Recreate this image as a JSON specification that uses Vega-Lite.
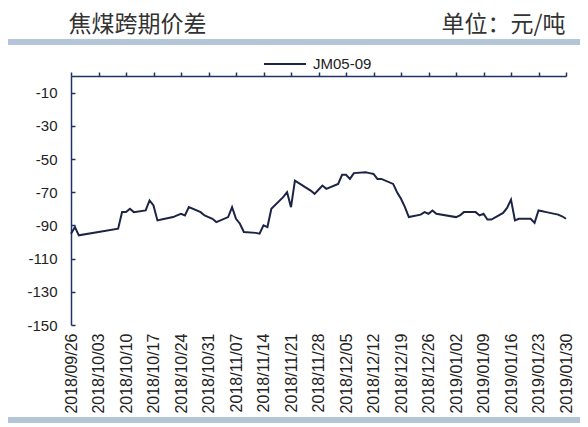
{
  "$schema": "https://vega.github.io/schema/vega-lite/v6.json",
  "width": 495,
  "height": 249,
  "autosize": "none",
  "padding": {"left": 71, "top": 76, "right": 22, "bottom": 102},
  "background": "white",
  "data": {
    "values": [
      {"date": "2018-09-26", "v": -95, "series": "JM05-09"},
      {"date": "2018-09-27", "v": -91, "series": "JM05-09"},
      {"date": "2018-09-28", "v": -96, "series": "JM05-09"},
      {"date": "2018-10-08", "v": -92, "series": "JM05-09"},
      {"date": "2018-10-09", "v": -82, "series": "JM05-09"},
      {"date": "2018-10-10", "v": -82, "series": "JM05-09"},
      {"date": "2018-10-11", "v": -80, "series": "JM05-09"},
      {"date": "2018-10-12", "v": -82, "series": "JM05-09"},
      {"date": "2018-10-15", "v": -81, "series": "JM05-09"},
      {"date": "2018-10-16", "v": -75, "series": "JM05-09"},
      {"date": "2018-10-17", "v": -78, "series": "JM05-09"},
      {"date": "2018-10-18", "v": -87, "series": "JM05-09"},
      {"date": "2018-10-19", "v": -86.5, "series": "JM05-09"},
      {"date": "2018-10-22", "v": -85, "series": "JM05-09"},
      {"date": "2018-10-23", "v": -84, "series": "JM05-09"},
      {"date": "2018-10-24", "v": -83, "series": "JM05-09"},
      {"date": "2018-10-25", "v": -84, "series": "JM05-09"},
      {"date": "2018-10-26", "v": -79, "series": "JM05-09"},
      {"date": "2018-10-29", "v": -82, "series": "JM05-09"},
      {"date": "2018-10-30", "v": -84, "series": "JM05-09"},
      {"date": "2018-10-31", "v": -85, "series": "JM05-09"},
      {"date": "2018-11-01", "v": -86, "series": "JM05-09"},
      {"date": "2018-11-02", "v": -88, "series": "JM05-09"},
      {"date": "2018-11-05", "v": -85, "series": "JM05-09"},
      {"date": "2018-11-06", "v": -79, "series": "JM05-09"},
      {"date": "2018-11-07", "v": -86, "series": "JM05-09"},
      {"date": "2018-11-08", "v": -89, "series": "JM05-09"},
      {"date": "2018-11-09", "v": -94, "series": "JM05-09"},
      {"date": "2018-11-12", "v": -94.5, "series": "JM05-09"},
      {"date": "2018-11-13", "v": -95, "series": "JM05-09"},
      {"date": "2018-11-14", "v": -90, "series": "JM05-09"},
      {"date": "2018-11-15", "v": -91, "series": "JM05-09"},
      {"date": "2018-11-16", "v": -80, "series": "JM05-09"},
      {"date": "2018-11-19", "v": -73, "series": "JM05-09"},
      {"date": "2018-11-20", "v": -70, "series": "JM05-09"},
      {"date": "2018-11-21", "v": -79, "series": "JM05-09"},
      {"date": "2018-11-22", "v": -63, "series": "JM05-09"},
      {"date": "2018-11-23", "v": -64.5, "series": "JM05-09"},
      {"date": "2018-11-26", "v": -69, "series": "JM05-09"},
      {"date": "2018-11-27", "v": -71, "series": "JM05-09"},
      {"date": "2018-11-28", "v": -68.5, "series": "JM05-09"},
      {"date": "2018-11-29", "v": -66, "series": "JM05-09"},
      {"date": "2018-11-30", "v": -68, "series": "JM05-09"},
      {"date": "2018-12-03", "v": -65, "series": "JM05-09"},
      {"date": "2018-12-04", "v": -59.5, "series": "JM05-09"},
      {"date": "2018-12-05", "v": -59.5, "series": "JM05-09"},
      {"date": "2018-12-06", "v": -62, "series": "JM05-09"},
      {"date": "2018-12-07", "v": -58.5, "series": "JM05-09"},
      {"date": "2018-12-10", "v": -58, "series": "JM05-09"},
      {"date": "2018-12-11", "v": -58.5, "series": "JM05-09"},
      {"date": "2018-12-12", "v": -59, "series": "JM05-09"},
      {"date": "2018-12-13", "v": -62, "series": "JM05-09"},
      {"date": "2018-12-14", "v": -62, "series": "JM05-09"},
      {"date": "2018-12-17", "v": -65, "series": "JM05-09"},
      {"date": "2018-12-18", "v": -70, "series": "JM05-09"},
      {"date": "2018-12-19", "v": -74, "series": "JM05-09"},
      {"date": "2018-12-20", "v": -79, "series": "JM05-09"},
      {"date": "2018-12-21", "v": -85, "series": "JM05-09"},
      {"date": "2018-12-24", "v": -83.5, "series": "JM05-09"},
      {"date": "2018-12-25", "v": -82, "series": "JM05-09"},
      {"date": "2018-12-26", "v": -83, "series": "JM05-09"},
      {"date": "2018-12-27", "v": -81, "series": "JM05-09"},
      {"date": "2018-12-28", "v": -83, "series": "JM05-09"},
      {"date": "2019-01-02", "v": -85, "series": "JM05-09"},
      {"date": "2019-01-03", "v": -84, "series": "JM05-09"},
      {"date": "2019-01-04", "v": -82, "series": "JM05-09"},
      {"date": "2019-01-07", "v": -82, "series": "JM05-09"},
      {"date": "2019-01-08", "v": -84, "series": "JM05-09"},
      {"date": "2019-01-09", "v": -83, "series": "JM05-09"},
      {"date": "2019-01-10", "v": -86.5, "series": "JM05-09"},
      {"date": "2019-01-11", "v": -86.5, "series": "JM05-09"},
      {"date": "2019-01-14", "v": -82.5, "series": "JM05-09"},
      {"date": "2019-01-15", "v": -79.5, "series": "JM05-09"},
      {"date": "2019-01-16", "v": -74.5, "series": "JM05-09"},
      {"date": "2019-01-17", "v": -87, "series": "JM05-09"},
      {"date": "2019-01-18", "v": -86, "series": "JM05-09"},
      {"date": "2019-01-21", "v": -86, "series": "JM05-09"},
      {"date": "2019-01-22", "v": -88.5, "series": "JM05-09"},
      {"date": "2019-01-23", "v": -81, "series": "JM05-09"},
      {"date": "2019-01-24", "v": -81.5, "series": "JM05-09"},
      {"date": "2019-01-25", "v": -82, "series": "JM05-09"},
      {"date": "2019-01-28", "v": -83.5, "series": "JM05-09"},
      {"date": "2019-01-29", "v": -84.5, "series": "JM05-09"},
      {"date": "2019-01-30", "v": -86, "series": "JM05-09"}
    ]
  },
  "layer": [
    {
      "mark": {"type": "rule", "color": "#b3c5d7", "strokeWidth": 4.5},
      "encoding": {
        "x": {
          "datum": {"year": 2018, "month": 9, "date": 10, "utc": true},
          "type": "temporal",
          "scale": {"type": "utc", "nice": false, "domain": [{"year": 2018, "month": 9, "date": 26, "utc": true}, {"year": 2019, "month": 1, "date": 30, "utc": true}]},
          "axis": {
            "orient": "bottom",
            "values": [
              {"year": 2018, "month": 9, "date": 26, "utc": true},
              {"year": 2018, "month": 10, "date": 3, "utc": true},
              {"year": 2018, "month": 10, "date": 10, "utc": true},
              {"year": 2018, "month": 10, "date": 17, "utc": true},
              {"year": 2018, "month": 10, "date": 24, "utc": true},
              {"year": 2018, "month": 10, "date": 31, "utc": true},
              {"year": 2018, "month": 11, "date": 7, "utc": true},
              {"year": 2018, "month": 11, "date": 14, "utc": true},
              {"year": 2018, "month": 11, "date": 21, "utc": true},
              {"year": 2018, "month": 11, "date": 28, "utc": true},
              {"year": 2018, "month": 12, "date": 5, "utc": true},
              {"year": 2018, "month": 12, "date": 12, "utc": true},
              {"year": 2018, "month": 12, "date": 19, "utc": true},
              {"year": 2018, "month": 12, "date": 26, "utc": true},
              {"year": 2019, "month": 1, "date": 2, "utc": true},
              {"year": 2019, "month": 1, "date": 9, "utc": true},
              {"year": 2019, "month": 1, "date": 16, "utc": true},
              {"year": 2019, "month": 1, "date": 23, "utc": true},
              {"year": 2019, "month": 1, "date": 30, "utc": true}
            ],
            "format": "%Y/%m/%d",
            "labelAngle": 270,
            "labelFontSize": 16,
            "labelColor": "#222222",
            "labelPadding": 8,
            "labelOverlap": false,
            "labelFlush": false,
            "ticks": false,
            "domain": false,
            "grid": false,
            "title": null
          }
        },
        "x2": {"datum": {"year": 2019, "month": 2, "date": 2, "hours": 12, "utc": true}},
        "y": {"datum": 20.5, "type": "quantitative", "scale": {"domain": [-150, 0], "nice": false, "zero": false}, "axis": null}
      }
    },
    {
      "mark": {"type": "rule", "color": "#b3c5d7", "strokeWidth": 4.5},
      "encoding": {
        "x": {
          "datum": {"year": 2018, "month": 9, "date": 10, "utc": true},
          "type": "temporal",
          "axis": null
        },
        "x2": {"datum": {"year": 2019, "month": 2, "date": 2, "hours": 12, "utc": true}},
        "y": {
          "datum": -207.2,
          "type": "quantitative",
          "axis": {
            "orient": "right",
            "offset": -495,
            "values": [-150, -130, -110, -90, -70, -50, -30, -10],
            "labels": false,
            "domain": false,
            "ticks": true,
            "tickSize": 4,
            "tickWidth": 1.5,
            "tickColor": "#1f3366",
            "grid": false,
            "title": null
          }
        }
      }
    },
    {
      "mark": {"type": "line", "strokeWidth": 2, "interpolate": "linear"},
      "encoding": {
        "x": {
          "field": "date",
          "type": "temporal",
          "axis": {
            "orient": "top",
            "values": [
              {"year": 2018, "month": 9, "date": 26, "utc": true},
              {"year": 2018, "month": 10, "date": 3, "utc": true},
              {"year": 2018, "month": 10, "date": 10, "utc": true},
              {"year": 2018, "month": 10, "date": 17, "utc": true},
              {"year": 2018, "month": 10, "date": 24, "utc": true},
              {"year": 2018, "month": 10, "date": 31, "utc": true},
              {"year": 2018, "month": 11, "date": 7, "utc": true},
              {"year": 2018, "month": 11, "date": 14, "utc": true},
              {"year": 2018, "month": 11, "date": 21, "utc": true},
              {"year": 2018, "month": 11, "date": 28, "utc": true},
              {"year": 2018, "month": 12, "date": 5, "utc": true},
              {"year": 2018, "month": 12, "date": 12, "utc": true},
              {"year": 2018, "month": 12, "date": 19, "utc": true},
              {"year": 2018, "month": 12, "date": 26, "utc": true},
              {"year": 2019, "month": 1, "date": 2, "utc": true},
              {"year": 2019, "month": 1, "date": 9, "utc": true},
              {"year": 2019, "month": 1, "date": 16, "utc": true},
              {"year": 2019, "month": 1, "date": 23, "utc": true},
              {"year": 2019, "month": 1, "date": 30, "utc": true}
            ],
            "labels": false,
            "ticks": true,
            "tickSize": 4,
            "tickWidth": 1.5,
            "tickColor": "#1f3366",
            "domainColor": "#1f3366",
            "domainWidth": 1.5,
            "grid": false,
            "title": "焦煤跨期价差",
            "titleX": -3,
            "titleY": -45,
            "titleAlign": "left",
            "titleBaseline": "alphabetic",
            "titleFont": "Noto Sans CJK SC",
            "titleFontSize": 23,
            "titleFontWeight": "normal",
            "titleColor": "#333333"
          }
        },
        "y": {
          "field": "v",
          "type": "quantitative",
          "axis": {
            "orient": "left",
            "values": [-150, -130, -110, -90, -70, -50, -30, -10],
            "labelExpr": "'' + datum.value",
            "ticks": false,
            "domainColor": "#1f3366",
            "domainWidth": 1.5,
            "labelFontSize": 15,
            "labelColor": "#222222",
            "labelPadding": 14,
            "grid": false,
            "title": "单位：元/吨",
            "titleAngle": 0,
            "titleX": 370,
            "titleY": -45,
            "titleAlign": "left",
            "titleBaseline": "alphabetic",
            "titleFont": "Noto Sans CJK SC",
            "titleFontSize": 23,
            "titleFontWeight": "normal",
            "titleColor": "#333333"
          }
        },
        "color": {
          "field": "series",
          "type": "nominal",
          "scale": {"domain": ["JM05-09"], "range": ["#1c2446"]},
          "legend": {
            "orient": "none",
            "legendX": 192,
            "legendY": -34,
            "title": null,
            "symbolType": "stroke",
            "symbolSize": 1764,
            "symbolStrokeWidth": 2,
            "labelFontSize": 15,
            "labelColor": "#222222",
            "labelOffset": 6,
            "padding": 0
          }
        }
      }
    }
  ],
  "config": {
    "view": {"stroke": null},
    "axis": {"labelFont": "Liberation Sans"},
    "legend": {"labelFont": "Liberation Sans"}
  }
}
